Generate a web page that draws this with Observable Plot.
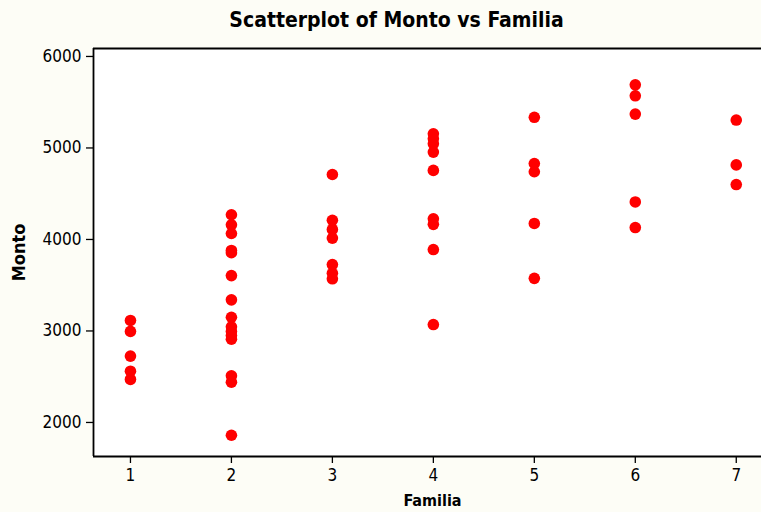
<!DOCTYPE html>
<html>
<head>
<meta charset="utf-8">
<script src="https://cdn.jsdelivr.net/npm/d3@7"></script>
<script src="https://cdn.jsdelivr.net/npm/@observablehq/plot@0.6"></script>
<style>
  html, body { margin: 0; padding: 0; background: #fdfdf6; }
  #chart { width: 761px; height: 512px; overflow: hidden; }
  #chart svg g[aria-label$="tick label"] { font-size: 17px; }
</style>
</head>
<body>
<div id="chart"></div>
<script>
const title = "Scatterplot of Monto vs Familia";
const xLabel = "Familia";
const yLabel = "Monto";
const xTicks = [1, 2, 3, 4, 5, 6, 7];
const yTicks = [2000, 3000, 4000, 5000, 6000];
const xDomain = [0.634, 7.25];
const yDomain = [1628, 6087];

const familia = [
  1, 1, 1, 1, 1,
  2, 2, 2, 2, 2, 2, 2, 2, 2, 2, 2, 2, 2, 2, 2,
  3, 3, 3, 3, 3, 3, 3,
  4, 4, 4, 4, 4, 4, 4, 4, 4,
  5, 5, 5, 5, 5,
  6, 6, 6, 6, 6,
  7, 7, 7
];
const monto = [
  3115, 2995, 2725, 2560, 2470,
  4270, 4160, 4065, 3880, 3855, 3605, 3340, 3150, 3045, 2995, 2950, 2910, 2510, 2440, 1860,
  4710, 4210, 4110, 4015, 3725, 3630, 3570,
  5155, 5100, 5045, 4955, 4755, 4225, 4165, 3890, 3070,
  5335, 4830, 4740, 4175, 3575,
  5690, 5570, 5370, 4410, 4130,
  5305, 4815, 4600
];

const data = familia.map((f, i) => ({familia: f, monto: monto[i]}));
const font = "'DejaVu Sans Condensed', 'DejaVu Sans', sans-serif";

const chart = Plot.plot({
  width: 761,
  height: 512,
  marginTop: 48,
  marginLeft: 93,
  marginRight: 0,
  marginBottom: 56,
  style: {fontFamily: font, fontSize: "17px", background: "transparent", color: "black"},
  x: {domain: xDomain, label: null},
  y: {domain: yDomain, label: null},
  marks: [
    Plot.frame({fill: "white", stroke: null}),
    Plot.axisX(xTicks, {tickSize: 7, tickPadding: 5, tickFormat: "d", strokeWidth: 1.3}),
    Plot.axisY(yTicks, {tickSize: 7, tickPadding: 5, tickFormat: "d", strokeWidth: 1.3}),
    Plot.ruleX([xDomain[0]], {stroke: "black", strokeWidth: 1.8}),
    Plot.ruleY([yDomain[0], yDomain[1]], {stroke: "black", strokeWidth: 1.8}),
    Plot.dot(data, {x: "familia", y: "monto", r: 5.8, fill: "#ff0000", stroke: null}),
    Plot.text([title], {frameAnchor: "top", lineAnchor: "middle", textAnchor: "middle", dy: -28, dx: -31, fontSize: 21, fontWeight: "bold", fill: "black"}),
    Plot.text([xLabel], {frameAnchor: "bottom", lineAnchor: "middle", textAnchor: "middle", dy: 44, dx: 5, fontSize: 16, fontWeight: "bold", fill: "black"}),
    Plot.text([yLabel], {frameAnchor: "left", lineAnchor: "middle", textAnchor: "middle", dx: -74, rotate: -90, fontSize: 18, fontWeight: "bold", fill: "black"})
  ]
});
document.getElementById("chart").appendChild(chart);
</script>
</body>
</html>
